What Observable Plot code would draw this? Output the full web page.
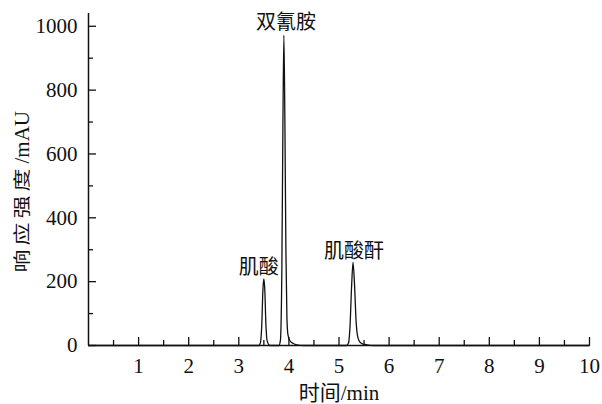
<!DOCTYPE html>
<html><head><meta charset="utf-8">
<script src="https://cdn.jsdelivr.net/npm/d3@7"></script>
<script src="https://cdn.jsdelivr.net/npm/@observablehq/plot@0.6"></script>
<style>html,body{margin:0;padding:0;background:#fff} svg{display:block}</style>
</head><body><div id="chart"></div>
<script>
// Chromatogram points (time in min, response in mAU)
const times = [0, 3.40, 3.43, 3.46, 3.48, 3.50, 3.52, 3.54, 3.57, 3.62,
  3.80, 3.83, 3.86, 3.88, 3.90, 3.92, 3.94, 3.96, 3.98, 4.02, 4.08, 4.16, 4.30,
  5.15, 5.19, 5.22, 5.25, 5.28, 5.31, 5.34, 5.37, 5.41, 5.47, 5.56, 5.70, 10];
const responses = [0, 0, 8, 70, 170, 209, 170, 70, 12, 0,
  0, 15, 250, 680, 972, 700, 300, 90, 35, 15, 7, 2, 0,
  0, 8, 60, 180, 260, 190, 80, 30, 12, 5, 2, 0, 0];

// Peak annotations
const peakNames = ["肌酸", "双氰胺", "肌酸酐"];
const peakTimes = [3.50, 3.90, 5.28];
const peakHeights = [209, 972, 260];

// Axis ticks
const xTicks = [1, 2, 3, 4, 5, 6, 7, 8, 9, 10];
const xMinorTicks = [0.5, 1.5, 2.5, 3.5, 4.5, 5.5, 6.5, 7.5, 8.5, 9.5];
const yTicks = [0, 200, 400, 600, 800, 1000];
const yMinorTicks = [100, 300, 500, 700, 900];
const xLabel = "时间/min";
const yLabelCJK = "响应强度";
const yLabelUnit = "/mAU";

const series = times.map((t, i) => ({t, v: responses[i]}));
const peaks = peakNames.map((name, i) => ({name, t: peakTimes[i], v: peakHeights[i]}));

const W = 602, H = 404;
const mL = 88, mR = 13, mT = 13, mB = 59;
const innerW = W - mL - mR, innerH = H - mT - mB;
const serif = "'Liberation Serif', 'Noto Sans CJK SC', serif";
const cjk = "'Noto Sans CJK SC', 'Liberation Serif', sans-serif";
const ink = "#111";
const labelOffsets = [[-5, -11], [2, -13], [1, -11]];

const chart = Plot.plot({
  width: W, height: H,
  marginLeft: mL, marginRight: mR, marginTop: mT, marginBottom: mB,
  style: {fontFamily: serif, fontSize: "21px", color: ink, background: "#fff"},
  x: {domain: [0, 10]},
  y: {domain: [0, 1040]},
  marks: [
    Plot.line(series, {x: "t", y: "v", curve: "monotone-x", stroke: ink, strokeWidth: 1.3}),
    Plot.ruleY([0], {stroke: ink, strokeWidth: 1.5}),
    Plot.ruleX([0], {stroke: ink, strokeWidth: 1.5}),
    Plot.tickX(xTicks, {x: d => d, insetTop: innerH - 8, stroke: ink, strokeWidth: 1.3}),
    Plot.tickX(xMinorTicks, {x: d => d, insetTop: innerH - 5, stroke: ink, strokeWidth: 1.3}),
    Plot.tickY(yTicks, {y: d => d, insetRight: innerW - 8, stroke: ink, strokeWidth: 1.3}),
    Plot.tickY(yMinorTicks, {y: d => d, insetRight: innerW - 5, stroke: ink, strokeWidth: 1.3}),
    Plot.axisX({ticks: xTicks, tickSize: 0, tickPadding: 13, label: null, fontSize: 21, fill: ink, tickFormat: d => String(d)}),
    Plot.axisY({ticks: yTicks, tickSize: 0, tickPadding: 11, label: null, fontSize: 21, fill: ink, tickFormat: d => String(d)}),
    Plot.text([xLabel], {frameAnchor: "bottom", dy: 48, lineAnchor: "middle", fontSize: 21, fill: ink}),
    Plot.text([yLabelCJK], {frameAnchor: "left", rotate: -90, textAnchor: "start", dx: -66, dy: 93,
      lineAnchor: "middle", fontSize: 23, fontFamily: cjk, fill: ink}),
    Plot.text([yLabelUnit], {frameAnchor: "left", rotate: -90, textAnchor: "start", dx: -66, dy: -16,
      lineAnchor: "middle", fontSize: 21, fill: ink}),
    ...peaks.map((p, i) => Plot.text([p], {x: "t", y: "v", text: "name",
      dx: labelOffsets[i][0], dy: labelOffsets[i][1], lineAnchor: "middle",
      fontSize: 20, fontFamily: cjk, fill: ink}))
  ]
});
d3.select(chart).selectAll("text")
  .filter(function() { return this.textContent === yLabelCJK; })
  .attr("letter-spacing", "4px")
  .attr("transform", function() { return (this.getAttribute("transform") || "") + " scale(1,0.72)"; });
document.getElementById("chart").appendChild(chart);
</script>
</body></html>
